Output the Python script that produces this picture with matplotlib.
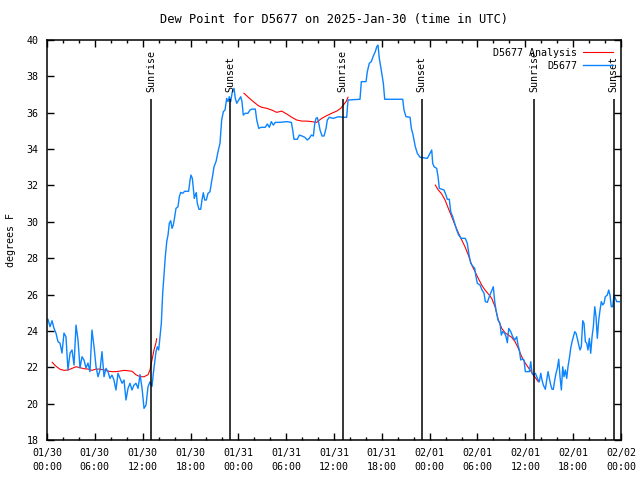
import numpy as np
import matplotlib
matplotlib.use("Agg")
import matplotlib.pyplot as plt
from matplotlib.ticker import MultipleLocator

plt.rcParams['font.family'] = 'DejaVu Sans Mono'
plt.rcParams['font.size'] = 7.2

# hours since 2025-01-30 00:00 UTC
obs_hours = [0.13, 0.38, 0.63, 0.88, 1.13, 1.38, 1.63, 1.88, 2.13, 2.38, 2.63, 2.89, 3.14, 3.39,
             3.64, 3.89, 4.14, 4.39, 4.64, 4.89, 5.14, 5.39, 5.64, 5.90, 6.15, 6.40, 6.65, 6.90,
             7.15, 7.40, 7.65, 7.90, 8.15, 8.40, 8.65, 8.91, 9.16, 9.41, 9.66, 9.91, 10.16, 10.41,
             10.66, 10.91, 11.16, 11.42, 11.67, 11.92, 12.17, 12.42, 12.67, 12.92, 13.17, 13.34,
             13.51, 13.67, 13.84, 14.01, 14.17, 14.34, 14.51, 14.68, 14.84, 15.02, 15.18, 15.34,
             15.52, 15.68, 15.84, 16.02, 16.18, 16.43, 16.60, 16.77, 17.02, 17.27, 17.77, 17.94,
             18.06, 18.23, 18.35, 18.48, 18.60, 18.73, 18.85, 19.07, 19.28, 19.44, 19.61, 19.78,
             19.98, 20.20, 20.45, 20.61, 20.79, 20.95, 21.20, 21.45, 21.70, 21.91, 22.12, 22.33,
             22.54, 22.70, 22.87, 23.04, 23.21, 23.46, 23.62, 23.80, 24.05, 24.30, 24.46, 24.62,
             24.87, 25.21, 25.46, 25.72, 26.13, 26.31, 26.56, 26.88, 27.38, 27.64, 27.89, 28.14,
             28.39, 28.64, 29.23, 30.07, 30.65, 30.82, 30.98, 31.40, 31.65, 31.99, 32.33, 32.65,
             32.90, 33.15, 33.41, 33.58, 33.74, 33.91, 34.08, 34.25, 34.50, 34.75, 35.00, 35.16,
             35.41, 35.91, 36.54, 37.17, 37.59, 37.76, 39.26, 39.43, 40.02, 40.18, 40.43, 40.68,
             40.93, 41.18, 41.36, 41.52, 41.68, 41.86, 42.02, 42.19, 42.36, 44.62, 44.78, 45.03,
             45.54, 45.70, 45.87, 46.04, 46.20, 46.45, 46.79, 47.71, 48.05, 48.26, 48.38, 48.55,
             48.88, 49.05, 49.21, 49.46, 49.80, 50.05, 50.21, 50.46, 50.64, 50.89, 51.14, 51.39,
             51.64, 51.97, 52.47, 52.72, 52.90, 53.15, 53.40, 53.65, 53.81, 53.98, 54.32, 54.57,
             54.82, 54.98, 55.23, 55.48, 55.73, 55.98, 56.16, 56.32, 56.57, 56.82, 56.99, 57.16,
             57.41, 57.58, 57.74, 57.92, 58.17, 58.42, 58.67, 58.92, 59.08, 59.25, 59.42, 59.58,
             59.83, 60.00, 60.50, 60.68, 60.84, 61.01, 61.26, 61.51, 61.76, 61.93, 62.09, 62.26,
             62.51, 62.68, 62.85, 63.01, 63.19, 63.35, 63.51, 63.69, 63.85, 64.01, 64.19, 64.35,
             64.52, 64.69, 64.85, 65.02, 65.19, 65.35, 65.52, 65.69, 65.86, 66.02, 66.20, 66.36,
             66.52, 66.70, 66.86, 67.02, 67.20, 67.36, 67.53, 67.70, 67.86, 68.03, 68.20, 68.37,
             68.53, 68.71, 68.87, 69.03, 69.21, 69.37, 69.53, 69.71, 69.87, 70.03, 70.28, 70.46,
             70.62, 70.78, 70.95, 71.12, 71.29, 71.46, 71.79]
obs_dewpt = [24.63, 24.23, 24.56, 24.14, 23.87, 23.41, 23.33, 22.78, 23.88, 23.68, 21.85, 22.78, 22.95, 22.12,
             24.32, 23.50, 21.96, 22.58, 22.40, 21.96, 22.23, 21.76, 24.05, 23.13, 22.03, 21.48, 21.85, 22.86,
             21.48, 21.94, 21.76, 21.39, 21.57, 21.30, 20.75, 21.67, 21.39, 21.12, 21.30, 20.20, 20.84, 21.12,
             20.75, 21.02, 21.12, 20.84, 21.60, 20.85, 19.74, 19.92, 20.93, 21.20, 20.95, 21.67,
             22.31, 22.86, 23.13, 22.95, 23.68, 24.42, 26.07, 27.07, 28.08, 28.91, 29.27, 29.92,
             30.06, 29.64, 29.82, 30.28, 30.74, 30.83, 31.38, 31.62, 31.57, 31.68, 31.68, 32.30,
             32.57, 32.39, 31.84, 31.29, 31.47, 31.60, 31.02, 30.69, 30.69, 31.20, 31.60, 31.20,
             31.20, 31.57, 31.66, 32.12, 32.57, 33.03, 33.31, 33.85, 34.32, 35.60, 36.06, 36.15,
             36.79, 36.61, 36.88, 36.61, 37.07, 37.34, 36.79, 36.52, 36.70, 36.88, 36.61, 35.87,
             35.97, 35.97, 36.15, 36.20, 36.20, 35.60, 35.14, 35.20, 35.20, 35.38, 35.20, 35.51,
             35.32, 35.47, 35.47, 35.51, 35.47, 35.05, 34.54, 34.54, 34.77, 34.72, 34.65, 34.50,
             34.59, 34.77, 34.72, 35.38, 35.69, 35.73, 35.45, 35.05, 34.72, 34.72, 35.14, 35.60,
             35.75, 35.69, 35.78, 35.75, 35.75, 36.70, 36.74, 37.71, 37.71, 38.26, 38.72, 38.81,
             39.12, 39.36, 39.63, 39.72, 38.99, 38.53, 38.07, 37.62, 36.74, 36.74, 36.15, 35.78,
             35.75, 35.14, 34.87, 34.50, 34.13, 33.77, 33.55, 33.49, 33.77, 33.95, 33.22, 33.03,
             32.94, 32.48, 31.84, 31.80, 31.75, 31.47, 31.24, 31.24, 30.56, 30.28, 29.92, 29.55,
             29.27, 29.09, 29.09, 28.82, 28.27, 27.72, 27.57, 27.44, 26.98, 26.62, 26.52, 26.25,
             26.07, 25.61, 25.57, 25.88, 26.16, 26.43, 25.61, 25.15, 24.60, 24.42, 23.77, 23.96,
             23.87, 23.68, 23.35, 24.14, 23.96, 23.68, 23.50, 23.68, 23.22, 22.95, 22.40, 22.45,
             22.40, 21.76, 21.76, 22.31, 21.67, 21.57, 21.67, 21.39, 21.20, 21.67, 21.30, 21.02,
             20.79, 21.30, 21.76, 21.39, 21.02, 20.79, 20.79, 21.30, 21.67, 21.94, 22.44, 21.48,
             20.75, 22.03, 21.48, 21.85, 21.39, 22.03, 22.49, 23.04, 23.41, 23.68, 23.96, 23.87,
             23.59, 23.22, 22.95, 23.13, 24.56, 24.42, 23.41, 23.32, 22.95, 23.59, 22.77, 23.68,
             24.23, 25.33, 24.78, 23.59, 24.60, 25.15, 25.61, 25.43, 25.52, 25.88, 25.97, 26.25,
             25.97, 25.33, 25.33, 25.97, 25.79, 25.61, 25.61]

# analysis curve, nan = gap between the night segments
ana_hours = [0.66, 1.09, 1.63, 2.13, 2.63, 3.14, 3.64, 4.14, 4.64, 5.14, 5.64, 6.15, 6.65, 7.15,
             7.65, 8.15, 8.65, 9.16, 9.66, 10.16, 10.66, 11.16, 11.67, 12.17, 12.67, 12.92, 13.17,
             13.42, 13.67, 13.76, np.nan,
             24.71, 25.25, 25.88, 26.51, 26.93, 27.56, 28.19, 28.81, 29.44, 30.07, 30.70, 31.32,
             31.95, 32.58, 33.20, 33.83, 34.46, 35.09, 35.71, 36.34, 36.84, 37.17, 37.51, 37.76, np.nan,
             48.71, 49.08, 49.51, 49.93, 50.34, 50.77, 51.18, 51.59, 52.02, 52.43, 52.85, 53.28,
             53.69, 54.10, 54.53, 54.94, 55.36, 55.78, 56.20, 56.61, 57.04, 57.45, 57.87, 58.29,
             58.71, 59.12, 59.55, 59.96, 60.38, 60.80, 61.22, 61.63]
ana_dewpt = [22.27, 22.07, 21.89, 21.83, 21.85, 21.94, 22.03, 21.98, 21.92, 21.90, 21.83, 21.90, 21.90, 21.85,
             21.79, 21.76, 21.76, 21.79, 21.83, 21.81, 21.78, 21.59, 21.48, 21.48, 21.59, 21.85, 22.40,
             22.95, 23.35, 23.57, np.nan,
             37.07, 36.85, 36.61, 36.39, 36.30, 36.24, 36.15, 36.02, 36.09, 35.93, 35.75, 35.60,
             35.54, 35.54, 35.51, 35.47, 35.69, 35.84, 35.97, 36.09, 36.24, 36.42, 36.61, 36.85, np.nan,
             32.02, 31.75, 31.53, 31.20, 30.74, 30.28, 29.82, 29.40, 29.00, 28.63, 28.17, 27.62,
             27.26, 26.89, 26.52, 26.25, 26.03, 25.79, 25.33, 24.60, 24.14, 23.90, 23.77, 23.65,
             23.41, 23.04, 22.58, 22.25, 21.98, 21.72, 21.45, 21.20]

sun_events = ["Sunrise", "Sunset", "Sunrise", "Sunset", "Sunrise", "Sunset"]
sun_hours = [13.05, 22.95, 37.07, 46.98, 61.09, 71.1]

xtick_hours = list(range(0, 73, 6))
xtick_labels = ["01/30\n00:00", "01/30\n06:00", "01/30\n12:00", "01/30\n18:00",
                "01/31\n00:00", "01/31\n06:00", "01/31\n12:00", "01/31\n18:00",
                "02/01\n00:00", "02/01\n06:00", "02/01\n12:00", "02/01\n18:00",
                "02/02\n00:00"]

fig = plt.figure(figsize=(6.4, 4.8), dpi=100)
ax = fig.add_axes([47/640, 40/480, 574/640, 400/480])

ax.plot(ana_hours, ana_dewpt, color="#ff0000", lw=0.8, label="D5677 Analysis")
ax.plot(obs_hours, obs_dewpt, color="#0a84ff", lw=1.0, label="D5677")

for name, h in zip(sun_events, sun_hours):
    ax.vlines(h, 18, 36.75, color="black", lw=1.1)
    ax.text(h, 37.15, name, rotation=90, ha="center", va="bottom")

ax.set_xlim(0, 72)
ax.set_ylim(18, 40)
ax.set_xticks(xtick_hours)
ax.set_xticklabels(xtick_labels, linespacing=1.5)
ax.xaxis.set_minor_locator(MultipleLocator(2))
ax.yaxis.set_major_locator(MultipleLocator(2))
ax.tick_params(which="both", direction="in", top=True, right=True, width=1)
ax.tick_params(which="major", length=5, pad=6)
ax.tick_params(which="minor", length=2.5)
for s in ax.spines.values():
    s.set_linewidth(1.1)

ax.set_ylabel("degrees F", labelpad=8)
ax.set_title("Dew Point for D5677 on 2025-Jan-30 (time in UTC)", pad=12)

ax.legend(loc="upper right", frameon=False, markerfirst=False, handlelength=3.0,
          handletextpad=0.6, borderpad=0.2, borderaxespad=0.6, labelspacing=0.3)

fig.savefig("out.png", dpi=100)
